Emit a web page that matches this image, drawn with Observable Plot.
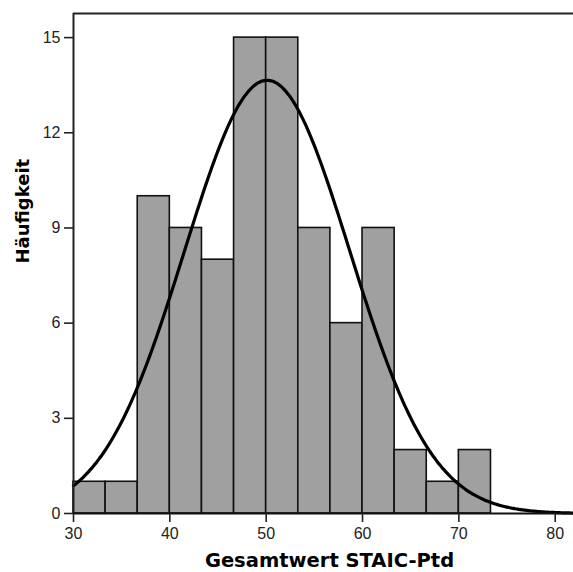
<!DOCTYPE html>
<html>
<head>
<meta charset="utf-8">
<script src="https://cdn.jsdelivr.net/npm/d3@7"></script>
<script src="https://cdn.jsdelivr.net/npm/@observablehq/plot@0.6"></script>
<style>
  html, body { margin: 0; padding: 0; background: #fff; }
  #chart svg { display: block; }
</style>
</head>
<body>
<div id="chart"></div>
<script>
// Histogram data
const binStart = 30;
const binWidth = 10 / 3;
const counts = [1, 1, 10, 9, 8, 15, 15, 9, 6, 9, 2, 1, 2];
// Fitted normal curve parameters
const curveMean = 50.1;
const curveSd = 8.57;
const curveN = 88;
// Axis ticks
const xTicks = [30, 40, 50, 60, 70, 80];
const yTicks = [0, 3, 6, 9, 12, 15];
const xLabel = "Gesamtwert STAIC-Ptd";
const yLabel = "Häufigkeit";
const xDomain = [30, 81.9];
const yDomain = [0, 15.76];

const bars = counts.map((c, i) => ({
  x1: binStart + i * binWidth,
  x2: binStart + (i + 1) * binWidth,
  y: c
}));

const curve = [];
for (let x = xDomain[0]; x <= xDomain[1] + 1e-9; x += 0.2) {
  const z = (x - curveMean) / curveSd;
  curve.push({
    x,
    y: curveN * binWidth / (curveSd * Math.sqrt(2 * Math.PI)) * Math.exp(-0.5 * z * z)
  });
}

const font = "Liberation Sans, Arial, sans-serif";
const titleFont = "DejaVu Sans, Verdana, sans-serif";

const chart = Plot.plot({
  width: 573,
  height: 572,
  marginLeft: 73,
  marginTop: 13,
  marginBottom: 59,
  marginRight: 0,
  style: { fontFamily: font, fontSize: "16px", color: "#222", background: "#fff" },
  x: { domain: xDomain },
  y: { domain: yDomain },
  marks: [
    Plot.rectY(bars, { x1: "x1", x2: "x2", y: "y", fill: "#a0a0a0", stroke: "#111", strokeWidth: 1.6 }),
    Plot.line(curve, { x: "x", y: "y", stroke: "#000", strokeWidth: 3.2, curve: "basis" }),
    Plot.ruleX([xDomain[0]], { stroke: "#222", strokeWidth: 2 }),
    Plot.ruleY([yDomain[1]], { stroke: "#222", strokeWidth: 2 }),
    Plot.ruleY([0], { stroke: "#111", strokeWidth: 2.2 }),
    Plot.axisX({ ticks: xTicks, tickSize: 9, tickPadding: 5, tickFormat: d => String(d), label: null, fontSize: 16, strokeWidth: 1.6 }),
    Plot.axisY({ ticks: yTicks, tickSize: 9, tickPadding: 4, tickFormat: d => String(d), label: null, fontSize: 16, strokeWidth: 1.6 }),
    Plot.text([xLabel], { frameAnchor: "bottom", dx: 6, dy: 47, text: d => d, fontFamily: titleFont, fontSize: 19.5, fontWeight: "bold", fill: "#000", lineAnchor: "middle" }),
    Plot.text([yLabel], { frameAnchor: "left", dx: -50, text: d => d, fontFamily: titleFont, fontSize: 18, fontWeight: "bold", fill: "#000", rotate: -90, lineAnchor: "middle" })
  ]
});

document.getElementById("chart").appendChild(chart);
</script>
</body>
</html>
